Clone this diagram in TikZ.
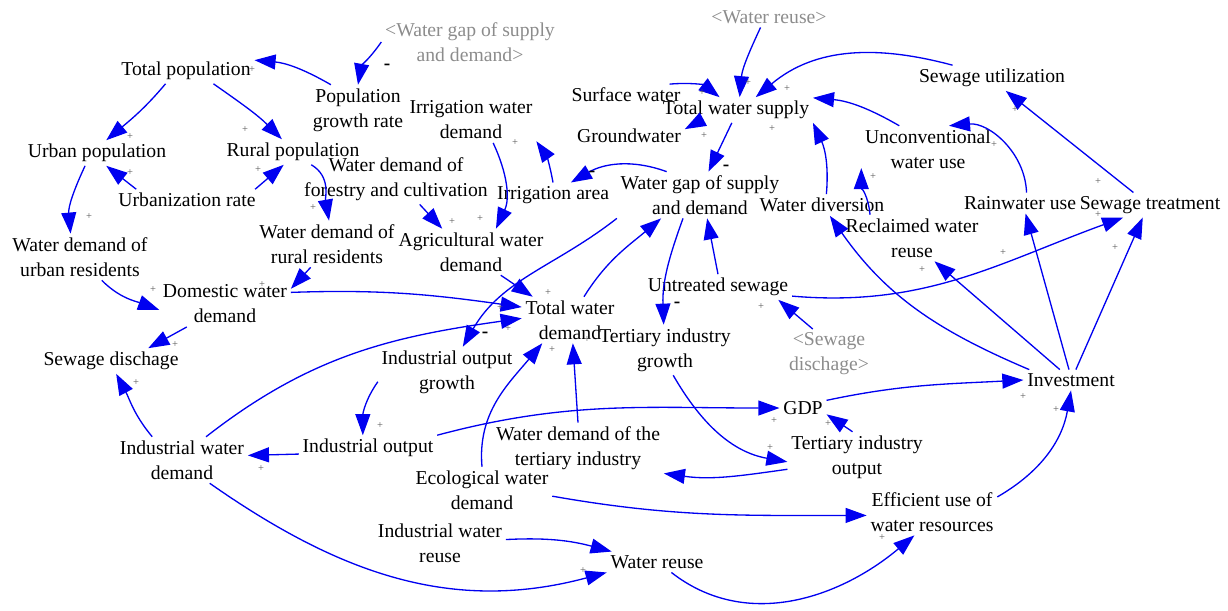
\documentclass[tikz,border=0pt]{standalone}
\usepackage{fontspec}
\setmainfont{Liberation Serif}
\usetikzlibrary{arrows.meta}
\definecolor{linkblue}{RGB}{0,0,240}
\definecolor{ghostgray}{RGB}{140,140,140}
\definecolor{signgray}{RGB}{90,90,90}

\begin{document}
\begin{tikzpicture}[x=0.02cm,y=0.02cm,
  var/.style={align=center,inner sep=2pt,font=\fontsize{11.2}{14.2}\selectfont},
  ghostvar/.style={var,text=ghostgray},
  link/.style={draw=linkblue,line width=0.75pt,-{Triangle[length=12pt,width=8.5pt]}},
  plus/.style={inner sep=0pt,text=signgray,font=\fontsize{6}{6}\selectfont},
  minus/.style={inner sep=0pt,font=\fontsize{11}{11}\selectfont\bfseries}]
\useasboundingbox (0,0) rectangle (1228,-610);

\node[var] (tpop) at (186,-71) {Total population};
\node[var] (pgr) at (358,-110) {Population\\growth rate};
\node[ghostvar] (ggap) at (470,-42) {<Water gap of supply\\and demand>};
\node[ghostvar] (greuse) at (769,-17) {<Water reuse>};
\node[var] (upop) at (97,-153) {Urban population};
\node[var] (rpop) at (293,-152) {Rural population};
\node[var] (urate) at (187,-200) {Urbanization rate};
\node[var] (wfor) at (396,-179) {Water demand of\\forestry and cultivation};
\node[var] (iwd) at (471,-120) {Irrigation water\\demand};
\node[var] (sw) at (626,-95) {Surface water};
\node[var] (tws) at (736,-110) {Total water supply};
\node[var] (gw) at (629,-136) {Groundwater};
\node[var] (iarea) at (553,-195) {Irrigation area};
\node[var] (gap) at (700,-195) {Water gap of supply\\and demand};
\node[var] (sutil) at (992,-78) {Sewage utilization};
\node[var] (ucw) at (928,-149) {Unconventional\\water use};
\node[var] (wdiv) at (822,-205) {Water diversion};
\node[var] (rain) at (1020,-203) {Rainwater use};
\node[var] (stre) at (1150,-205) {Sewage treatment};
\node[var] (recl) at (912,-238) {Reclaimed water\\reuse};
\node[var] (wdu) at (80,-257) {Water demand of\\urban residents};
\node[var] (wdr) at (327,-244) {Water demand of\\rural residents};
\node[var] (agr) at (471,-252) {Agricultural water\\demand};
\node[var] (dom) at (225,-304) {Domestic water\\demand};
\node[var] (twd) at (570,-320) {Total water\\demand};
\node[var] (unt) at (718,-287) {Untreated sewage};
\node[var] (tig) at (665,-350) {Tertiary industry\\growth};
\node[ghostvar] (gsew) at (829,-354) {<Sewage\\dischage>};
\node[var] (sewd) at (111,-361) {Sewage dischage};
\node[var] (iog) at (447,-372) {Industrial output\\growth};
\node[var] (inv) at (1071,-380) {Investment};
\node[var] (gdp) at (803,-408) {GDP};
\node[var] (indw) at (182,-460) {Industrial water\\demand};
\node[var] (iout) at (368,-448) {Industrial output};
\node[var] (wdt) at (578,-448) {Water demand of the\\tertiary industry};
\node[var] (tio) at (857,-457) {Tertiary industry\\output};
\node[var] (eco) at (482,-490) {Ecological water\\demand};
\node[var] (iwr) at (440,-543) {Industrial water\\reuse};
\node[var] (wreuse) at (657,-562) {Water reuse};
\node[var] (eff) at (932,-512) {Efficient use of\\water resources};

\path (ggap.west) edge [link,out=235,in=80] (pgr.north);
\path (pgr.137) edge [link,out=150,in=-5] (tpop.9);
\path (tpop.212) edge [link,out=230,in=40] (upop.54);
\path (tpop.-25) edge [link,out=-35,in=135] (rpop.131);
\path (urate.168) edge [link] (upop.-54);
\path (urate.9) edge [link] (rpop.234);
\path (upop.227) edge [link,out=245,in=95] (wdu.112);
\path (rpop.-35) edge [link,out=-30,in=100] (wdr.85);
\path (wdu.-47) edge [link,out=-45,in=160] (dom.185);
\path (wdr.235) edge [link] (dom.13);
\path (dom.10) edge [link,out=2,in=172] (twd.165);
\path (dom.211) edge [link] (sewd.19);
\path (indw.142) edge [link,out=130,in=-62] (sewd.-68);
\path (indw.44) edge [link,out=38,in=188] (twd.178);
\path (wfor.-47) edge [link] (agr.141);
\path (iwd.-46) edge [link,out=-65,in=65] (agr.43);
\path (iarea.north) edge [link,out=100,in=-55] (iwd.-18);
\path (gap.145) edge [link,out=160,in=30] (iarea.35);
\path (agr.-38) edge [link] (twd.148);
\path (tws.198) edge [link] (gw.7);
\path (sw.14) edge [link,out=5,in=142] (tws.142);
\path (greuse.231) edge [link,out=245,in=85] (tws.74);
\path (sutil.162) edge [link,out=165,in=40] (tws.33);
\path (ucw.141) edge [link,out=150,in=-5] (tws.9);
\path (wdiv.68) edge [link,out=85,in=-65] (tws.south east);
\path (recl.151) edge [link,out=95,in=-90] (ucw.196);
\path (rain.58) edge [link,out=92,in=5] (ucw.48);
\path (stre.143) edge [link] (sutil.-43);
\path (tws.252) edge [link] (gap.70);
\path (twd.59) edge [link,out=58,in=220] (gap.211);
\path (unt.north) edge [link] (gap.-73);
\path (gap.234) edge [link,out=250,in=92] (tig.93);
\path (gap.south west) edge [link,out=218,in=60] (iog.58);
\path (gsew.123) edge [link] (unt.-12);
\path (unt.-7) edge [link,out=-5,in=200] (stre.205);
\path (inv.166) edge [link,out=157,in=-55] (wdiv.-54);
\path (inv.137) edge [link] (recl.-46);
\path (inv.101) edge [link] (rain.-62);
\path (inv.65) edge [link] (stre.240);
\path (gdp.18) edge [link,out=12,in=183] (inv.west);
\path (eff.13) edge [link,out=30,in=-100] (inv.south);
\path (tio.100) edge [link] (gdp.-15);
\path (iout.north east) edge [link,out=15,in=180] (gdp.west);
\path (tig.-72) edge [link,out=-60,in=170] (tio.184);
\path (tio.190) edge [link,out=188,in=-8] (wdt.south east);
\path (wdt.north) edge [link] (twd.-83);
\path (eco.north) edge [link,out=95,in=230] (twd.220);
\path (iog.188) edge [link,out=235,in=90] (iout.112);
\path (iout.185) edge [link] (indw.4);
\path (indw.-40) edge [link,out=-35,in=195] (wreuse.south west);
\path (iwr.3) edge [link,out=3,in=165] (wreuse.167);
\path (eco.-5) edge [link,out=-10,in=180] (eff.183);
\path (wreuse.-36) edge [link,out=-38,in=220] (eff.233);

\node[plus] (p1) at (252,-70) {+};
\node[plus] (p2) at (130,-137) {+};
\node[plus] (p3) at (245,-130) {+};
\node[plus] (p4) at (130,-173) {+};
\node[plus] (p5) at (258,-170) {+};
\node[plus] (p6) at (89,-217) {+};
\node[plus] (p7) at (313,-208) {+};
\node[plus] (p8) at (153,-290) {+};
\node[plus] (p9) at (175,-345) {+};
\node[plus] (p10) at (136,-383) {+};
\node[plus] (p11) at (262,-285) {+};
\node[plus] (p12) at (452,-222) {+};
\node[plus] (p13) at (480,-219) {+};
\node[plus] (p14) at (515,-143) {+};
\node[plus] (p15) at (548,-293) {+};
\node[plus] (p16) at (500,-308) {+};
\node[plus] (p17) at (508,-329) {+};
\node[plus] (p18) at (552,-350) {+};
\node[plus] (p19) at (587,-340) {+};
\node[plus] (p20) at (702,-93) {+};
\node[plus] (p21) at (748,-83) {+};
\node[plus] (p22) at (787,-89) {+};
\node[plus] (p23) at (704,-136) {+};
\node[plus] (p24) at (772,-129) {+};
\node[plus] (p25) at (688,-212) {+};
\node[plus] (p26) at (723,-213) {+};
\node[plus] (p27) at (873,-177) {+};
\node[plus] (p28) at (1015,-110) {+};
\node[plus] (p29) at (994,-145) {+};
\node[plus] (p30) at (1098,-182) {+};
\node[plus] (p31) at (1098,-215) {+};
\node[plus] (p32) at (1115,-248) {+};
\node[plus] (p33) at (1003,-253) {+};
\node[plus] (p34) at (922,-270) {+};
\node[plus] (p35) at (761,-307) {+};
\node[plus] (p36) at (1023,-397) {+};
\node[plus] (p37) at (1056,-410) {+};
\node[plus] (p38) at (774,-421) {+};
\node[plus] (p39) at (828,-424) {+};
\node[plus] (p40) at (770,-448) {+};
\node[plus] (p41) at (637,-463) {+};
\node[plus] (p42) at (380,-426) {+};
\node[plus] (p43) at (261,-469) {+};
\node[plus] (p44) at (583,-571) {+};
\node[plus] (p45) at (882,-538) {+};

\node[minus] (m1) at (387,-67) {-};
\node[minus] (m2) at (592,-174) {-};
\node[minus] (m3) at (726,-168) {-};
\node[minus] (m4) at (485,-335) {-};
\node[minus] (m5) at (677,-305) {-};
\end{tikzpicture}
\end{document}
